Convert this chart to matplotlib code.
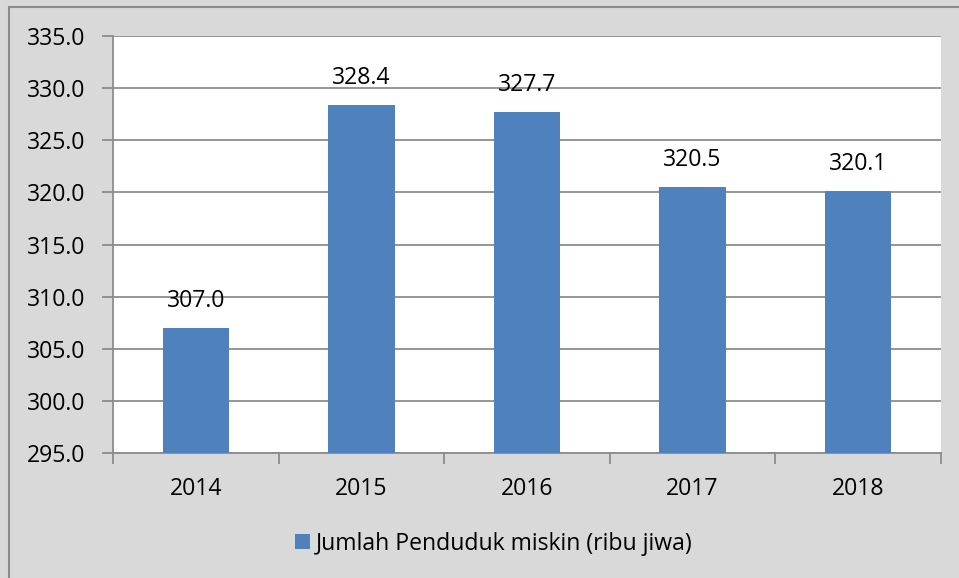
import matplotlib
matplotlib.use("Agg")
import matplotlib.pyplot as plt
from matplotlib.patches import Rectangle

years = ["2014", "2015", "2016", "2017", "2018"]
values = [307.0, 328.4, 327.7, 320.5, 320.1]
series_name = "Jumlah Penduduk miskin (ribu jiwa)"
yticks = [295.0, 300.0, 305.0, 310.0, 315.0, 320.0, 325.0, 330.0, 335.0]

plt.rcParams['font.family'] = ['Open Sans', 'DejaVu Sans']
FS = 16.6
BAR = '#4F81BD'
GRID = '#8C8C8C'
BG = '#D9D9D9'

W, H = 959, 578
fig = plt.figure(figsize=(W / 100, H / 100), dpi=100, facecolor=BG)
ax = fig.add_axes([113 / W, 1 - 453 / H, (941 - 113) / W, (453 - 36) / H])
ax.set_facecolor('white')

# outer border
fig.patches.append(Rectangle((9 / W, -0.05), 1.2, 1 - 7 / H + 0.05, transform=fig.transFigure,
                             fill=False, edgecolor='#8C8C8C', linewidth=1.5))

x = list(range(len(years)))
bars = ax.bar(x, values, width=0.4, color=BAR, label=series_name, zorder=3)
ax.set_ylim(295, 335)
ax.set_xlim(-0.5, len(years) - 0.5)
ax.set_yticks(yticks)
ax.set_yticklabels([f"{v:.1f}" for v in yticks], fontsize=FS, color='black')
ax.yaxis.grid(True, color=GRID, linewidth=1.3, zorder=0)
ax.tick_params(axis='y', length=8, width=1.3, color=GRID, pad=12)

ax.set_xticks([i - 0.5 for i in range(len(years) + 1)])
ax.set_xticklabels([])
ax.set_xticks(x, minor=True)
ax.set_xticklabels(years, minor=True, fontsize=FS)
ax.tick_params(axis='x', which='major', length=8, width=1.3, color=GRID)
ax.tick_params(axis='x', which='minor', length=0, pad=17)

for s in ['top', 'right']:
    ax.spines[s].set_visible(False)
for s in ['left', 'bottom']:
    ax.spines[s].set_color(GRID)
    ax.spines[s].set_linewidth(1.3)

for xi, v in zip(x, values):
    ax.annotate(f"{v:.1f}", (xi, v), xytext=(0, 11), textcoords='offset points',
                ha='center', va='bottom', fontsize=FS, zorder=5)

leg = fig.legend(handles=[bars], labels=[series_name], loc='center',
                 bbox_to_anchor=(493.5 / W, 1 - 543.5 / H), frameon=False, fontsize=FS,
                 handlelength=0.65, handleheight=0.65, handletextpad=0.26)

fig.savefig("out.png", dpi=100, facecolor=BG)
